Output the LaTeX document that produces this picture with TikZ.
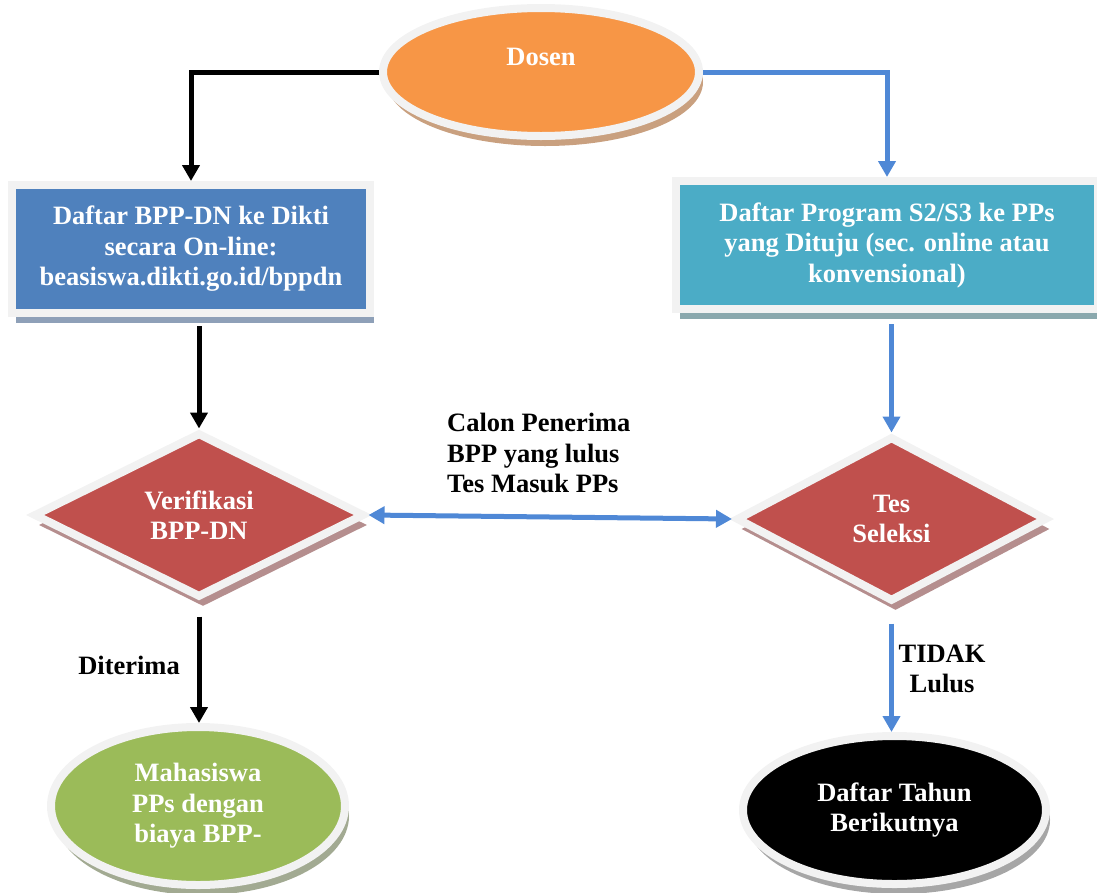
\documentclass[tikz,border=0pt]{standalone}
\usepackage{fontspec}
\setmainfont{Liberation Serif}
\usetikzlibrary{arrows.meta, positioning, calc, shapes.geometric, shadows}

\definecolor{rim}{HTML}{F2F2F2}
\definecolor{linkblue}{HTML}{4F88D6}
\definecolor{dosenorange}{HTML}{F79646}
\definecolor{dosenS}{HTML}{C9A07F}
\definecolor{boxblue}{HTML}{4F81BD}
\definecolor{boxblueS}{HTML}{8EA0B8}
\definecolor{boxteal}{HTML}{4BACC6}
\definecolor{boxtealS}{HTML}{8AA8AD}
\definecolor{choicered}{HTML}{C0504D}
\definecolor{choiceredS}{HTML}{B58E8E}
\definecolor{endgreen}{HTML}{9BBB59}
\definecolor{endgreenS}{HTML}{A2AA92}
\definecolor{endblackS}{HTML}{A6A6A6}

\begin{document}
\begin{tikzpicture}[x=1pt, y=-1pt, >={Triangle[width=17pt,length=16pt]}]
	\useasboundingbox (0,0) rectangle (1097,892);
	
	%======================
	% STYLES
	%======================
	\tikzset{
		txt/.style={font=\fontsize{26.5}{30.5}\selectfont\bfseries, align=center},
		dropcol/.style={drop shadow={shadow xshift=4pt, shadow yshift=-10pt, fill=#1, opacity=1}},
		card/.style={txt, rectangle, draw=rim, line width=8pt, text=white, inner sep=0pt},
		oval/.style={txt, ellipse, draw=rim, line width=8pt, text=white, inner sep=0pt},
		choice/.style={txt, diamond, aspect=2, draw=rim, line width=8pt, text=white, inner sep=0pt},
		link/.style={->, line width=5pt, black},
		bluelink/.style={->, line width=5pt, linkblue},
		note/.style={txt, text=black, inner sep=0pt}
	}
	
	% start
	\node[oval, fill=dosenorange, dropcol=dosenS, minimum width=316pt, minimum height=128pt,
	text depth=30pt] (dosen) at (541,72) {Dosen};
	
	% registration boxes
	\node[card, fill=boxblue, dropcol=boxblueS, minimum width=358pt, minimum height=128pt]
	(dftL) at (191,249) {Daftar BPP-DN ke Dikti\\secara On-line:\\beasiswa.dikti.go.id/bppdn};
	\node[card, fill=boxteal, dropcol=boxtealS, minimum width=422pt, minimum height=128pt]
	(dftR) at (887,245) {Daftar Program S2/S3 ke PPs\\yang Dituju (sec. online atau\\konvensional)};
	
	% decisions
	\node[choice, fill=choicered, dropcol=choiceredS, minimum width=331pt, minimum height=165pt]
	(verif) at (199,515) {Verifikasi\\BPP-DN};
	\node[choice, fill=choicered, dropcol=choiceredS, minimum width=311pt, minimum height=165pt]
	(tes) at (891.5,519) {Tes\\Seleksi};
	
	% results
	\node[oval, fill=endgreen, dropcol=endgreenS, minimum width=294pt, minimum height=158pt]
	(mhs) at (198,806) {Mahasiswa\\PPs dengan\\biaya BPP-};
	\node[oval, fill=black, dropcol=endblackS, minimum width=303pt, minimum height=148pt]
	(tahun) at (894.5,810) {Daftar Tahun\\Berikutnya};
	
	% connectors
	\draw[link] (dosen.west) -| (dftL.north);
	\draw[bluelink] (dosen.east) -| (dftR.north);
	\draw[link, shorten <=9pt] (dftL.south -| verif.north) -- (verif.north);
	\draw[bluelink, shorten <=11pt] (dftR.south -| tes.north) -- (tes.north);
	\draw[bluelink, <->] (verif.east) -- (tes.west);
	\draw[link, shorten <=15pt] (verif.south) -- (verif.south |- mhs.north);
	\draw[bluelink, shorten <=18pt] (tes.south) -- (tes.south |- tahun.north);
	
	% labels
	\node[note, anchor=west, align=left] (calon) at (447,453) {Calon Penerima\\BPP yang lulus\\Tes Masuk PPs};
	\node[note, anchor=east] (terima) at (180,665) {Diterima};
	\node[note] (tidak) at (942,669) {TIDAK\\Lulus};
\end{tikzpicture}
\end{document}
